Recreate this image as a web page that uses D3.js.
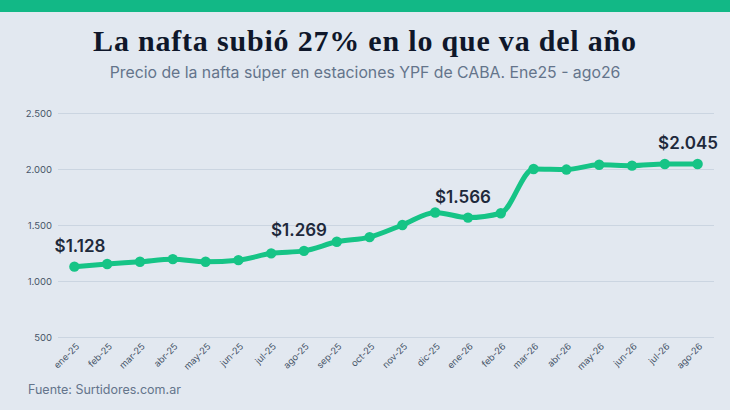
<!DOCTYPE html>
<html>
<head>
<meta charset="utf-8">
<script src="https://cdn.jsdelivr.net/npm/d3@7/dist/d3.min.js"></script>
<style>
  html, body { margin: 0; padding: 0; background: #e2e8f0; }
  svg { display: block; }
</style>
</head>
<body>
<div id="chart"></div>
<script>
const categories = ["ene-25","feb-25","mar-25","abr-25","may-25","jun-25","jul-25","ago-25","sep-25","oct-25","nov-25","dic-25","ene-26","feb-26","mar-26","abr-26","may-26","jun-26","jul-26","ago-26"];
const prices = [1128,1152,1172,1195,1172,1186,1247,1269,1350,1392,1500,1612,1566,1605,2000,1995,2038,2030,2045,2045];
const yTicks = [500,1000,1500,2000,2500];
const highlightIdx = [0,7,12,19];

const W = 730, H = 410;
const svg = d3.select("#chart").append("svg").attr("width", W).attr("height", H);

svg.append("rect").attr("width", W).attr("height", H).attr("fill", "#e2e8f0");
svg.append("rect").attr("width", W).attr("height", 12).attr("fill", "#12b886");

svg.append("text").attr("x", 365).attr("y", 51).attr("text-anchor", "middle")
  .attr("font-family", "Liberation Serif, serif").attr("font-weight", "bold")
  .attr("font-size", 30).attr("letter-spacing", 0.8).attr("fill", "#0f172a")
  .text("La nafta subió 27% en lo que va del año");

svg.append("text").attr("x", 365).attr("y", 77.5).attr("text-anchor", "middle")
  .attr("font-family", "Inter, sans-serif").attr("font-size", 15.8).attr("fill", "#64748b")
  .text("Precio de la nafta súper en estaciones YPF de CABA. Ene25 - ago26");

const x = d3.scalePoint().domain(categories).range([58, 714]).padding(0.5);
const y = d3.scaleLinear().domain([500, 2500]).range([337, 113]);

const yAxis = svg.append("g").attr("transform", "translate(58,0)")
  .call(d3.axisLeft(y).tickValues(yTicks).tickSize(-656).tickPadding(6)
    .tickFormat(d => d3.format(",")(d).replace(/,/g, ".")));
yAxis.select(".domain").remove();
yAxis.selectAll(".tick line").attr("stroke", "#cbd5e1").attr("stroke-width", 1.2);
yAxis.selectAll(".tick text").attr("font-family", "Inter, sans-serif").attr("font-size", 9.5).attr("fill", "#475569");

const xAxis = svg.append("g").attr("transform", "translate(0,337)")
  .call(d3.axisBottom(x).tickSize(0).tickPadding(0));
xAxis.select(".domain").remove();
xAxis.selectAll(".tick text")
  .attr("font-family", "Inter, sans-serif").attr("font-size", 9.2).attr("fill", "#475569")
  .attr("text-anchor", "end")
  .attr("dy", 0)
  .attr("transform", "translate(5,10) rotate(-45)");

const data = categories.map((c, i) => ({ c, v: prices[i], i }));

const line = d3.line().x(d => x(d.c)).y(d => y(d.v)).curve(d3.curveMonotoneX);
svg.append("path").datum(data).attr("d", line)
  .attr("fill", "none").attr("stroke", "#16c486").attr("stroke-width", 5)
  .attr("stroke-linejoin", "round").attr("stroke-linecap", "round");

svg.selectAll("circle.pt").data(data).join("circle").attr("class", "pt")
  .attr("cx", d => x(d.c)).attr("cy", d => y(d.v)).attr("r", 5.2).attr("fill", "#16c486");

const fmt = v => "$" + d3.format(",")(v).replace(/,/g, ".");
svg.selectAll("text.lbl").data(highlightIdx.map(i => data[i])).join("text").attr("class", "lbl")
  .attr("x", d => Math.max(80, Math.min(688, x(d.c) - 5)))
  .attr("y", d => y(d.v) - 15)
  .attr("text-anchor", "middle")
  .attr("font-family", "Inter, sans-serif").attr("font-weight", 600).attr("font-size", 17)
  .attr("fill", "#1e293b")
  .text(d => fmt(d.v));

svg.append("text").attr("x", 28).attr("y", 394)
  .attr("font-family", "Inter, sans-serif").attr("font-size", 12.5).attr("fill", "#64748b")
  .text("Fuente: Surtidores.com.ar");
</script>
</body>
</html>
